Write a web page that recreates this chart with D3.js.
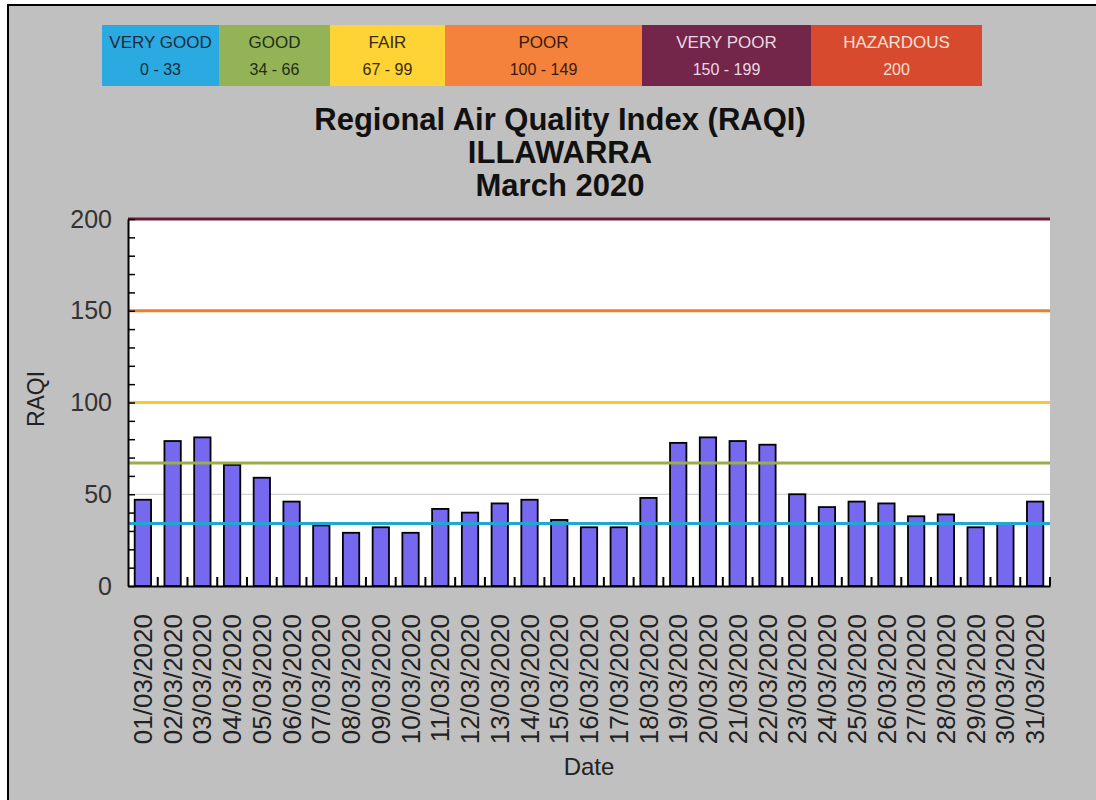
<!DOCTYPE html>
<html>
<head>
<meta charset="utf-8">
<script src="https://cdn.jsdelivr.net/npm/d3@7"></script>
<style>
  html, body { margin: 0; padding: 0; background: #fff; }
  svg { display: block; font-family: "Liberation Sans", Arial, sans-serif; }
</style>
</head>
<body>
<svg id="chart" width="1096" height="800"></svg>
<script>
// data
var dates = ["01/03/2020","02/03/2020","03/03/2020","04/03/2020","05/03/2020","06/03/2020","07/03/2020",
             "08/03/2020","09/03/2020","10/03/2020","11/03/2020","12/03/2020","13/03/2020","14/03/2020",
             "15/03/2020","16/03/2020","17/03/2020","18/03/2020","19/03/2020","20/03/2020","21/03/2020",
             "22/03/2020","23/03/2020","24/03/2020","25/03/2020","26/03/2020","27/03/2020","28/03/2020",
             "29/03/2020","30/03/2020","31/03/2020"];
var raqi = [47, 79, 81, 66, 59, 46, 33, 29, 32, 29, 42, 40, 45, 47, 36, 32, 32, 48,
            78, 81, 79, 77, 50, 43, 46, 45, 38, 39, 32, 34, 46];

var yTicks = [0, 50, 100, 150, 200];

var bandNames  = ["VERY GOOD", "GOOD", "FAIR", "POOR", "VERY POOR", "HAZARDOUS"];
var bandRanges = ["0 - 33", "34 - 66", "67 - 99", "100 - 149", "150 - 199", "200"];
var bandColors = ["#2aaae0", "#93b356", "#fdd335", "#f4823c", "#74264a", "#d84a2d"];
var bandText   = ["#1c2a3a", "#1e2e14", "#3a2a08", "#3a1a08", "#ead8e2", "#f6e0d8"];

var thresholds = [34, 67, 100, 150, 200];
var threshColors = ["#1ea8d2", "#9aad4a", "#fdc82c", "#f07c2c", "#6a1a38"];

var titleLines = ["Regional Air Quality Index (RAQI)", "ILLAWARRA", "March 2020"];

var svg = d3.select("#chart");

// background frame
svg.append("rect")
    .attr("x", 8).attr("y", 5)
    .attr("width", 1100).attr("height", 800)
    .attr("fill", "#c0c0c0")
    .attr("stroke", "#000")
    .attr("stroke-width", 2);

// legend strip
var legendW = [117, 111, 115, 197, 169, 171];
var legendX = [102];
legendW.forEach(function(w, i) { legendX.push(legendX[i] + w); });

var legend = svg.append("g").attr("transform", "translate(0,25)");
var cells = legend.selectAll("g.cell")
    .data(bandNames)
  .enter().append("g")
    .attr("class", "cell")
    .attr("transform", function(d, i) { return "translate(" + legendX[i] + ",0)"; });

cells.append("rect")
    .attr("width", function(d, i) { return legendW[i]; })
    .attr("height", 61)
    .attr("fill", function(d, i) { return bandColors[i]; });

cells.append("text")
    .attr("x", function(d, i) { return legendW[i] / 2; })
    .attr("y", 23)
    .attr("text-anchor", "middle")
    .attr("font-size", 17)
    .attr("fill", function(d, i) { return bandText[i]; })
    .text(function(d) { return d; });

cells.append("text")
    .attr("x", function(d, i) { return legendW[i] / 2; })
    .attr("y", 50)
    .attr("text-anchor", "middle")
    .attr("font-size", 16)
    .attr("fill", function(d, i) { return bandText[i]; })
    .text(function(d, i) { return bandRanges[i]; });

// title
svg.append("g").selectAll("text")
    .data(titleLines)
  .enter().append("text")
    .attr("x", 560)
    .attr("y", function(d, i) { return 130 + i * 33; })
    .attr("text-anchor", "middle")
    .attr("font-size", 31)
    .attr("font-weight", "bold")
    .attr("fill", "#111")
    .text(function(d) { return d; });

// plot area
var plotLeft = 128, plotRight = 1050, plotTop = 219, plotBottom = 586;

var x = d3.scaleBand()
    .domain(dates)
    .range([plotLeft, plotRight])
    .paddingInner(0.45)
    .paddingOuter(0.225);

var y = d3.scaleLinear()
    .domain([0, 200])
    .range([plotBottom, plotTop]);

svg.append("rect")
    .attr("x", plotLeft).attr("y", plotTop)
    .attr("width", plotRight - plotLeft).attr("height", plotBottom - plotTop)
    .attr("fill", "#fff");

// grid
svg.append("g").selectAll("line")
    .data(yTicks.slice(1, 4))
  .enter().append("line")
    .attr("x1", plotLeft).attr("x2", plotRight)
    .attr("y1", function(d) { return y(d); })
    .attr("y2", function(d) { return y(d); })
    .attr("stroke", "#c8c8c8")
    .attr("stroke-width", 1);

// bars
svg.append("g").selectAll("rect")
    .data(raqi)
  .enter().append("rect")
    .attr("x", function(d, i) { return x(dates[i]); })
    .attr("y", function(d) { return y(d); })
    .attr("width", x.bandwidth())
    .attr("height", function(d) { return y(0) - y(d); })
    .attr("fill", "#7768f0")
    .attr("stroke", "#000")
    .attr("stroke-width", 1.8);

// threshold lines drawn over the bars
svg.append("g").selectAll("line")
    .data(thresholds)
  .enter().append("line")
    .attr("x1", plotLeft).attr("x2", plotRight)
    .attr("y1", function(d) { return y(d); })
    .attr("y2", function(d) { return y(d); })
    .attr("stroke", function(d, i) { return threshColors[i]; })
    .attr("stroke-width", 3);

// y axis: minor ticks inside, labels every 50
var yMinor = d3.axisLeft(y)
    .tickValues(d3.range(0, 201, 10))
    .tickSizeInner(-7)
    .tickSizeOuter(0)
    .tickFormat("");

svg.append("g")
    .attr("transform", "translate(" + plotLeft + ",0)")
    .call(yMinor)
    .call(function(g) {
      g.selectAll("line").attr("stroke", "#000").attr("stroke-width", 1.5);
      g.select(".domain").attr("stroke", "#000").attr("stroke-width", 2);
    });

var yAxis = d3.axisLeft(y)
    .tickValues(yTicks)
    .tickSize(0)
    .tickPadding(16);

svg.append("g")
    .attr("transform", "translate(" + plotLeft + ",0)")
    .call(yAxis)
    .call(function(g) {
      g.select(".domain").remove();
      g.selectAll("text")
          .attr("font-size", 25)
          .attr("font-family", "Liberation Sans, Arial, sans-serif")
          .attr("fill", "#333");
    });

// x axis
var xAxis = d3.axisBottom(x).tickSize(0).tickPadding(0);

svg.append("g")
    .attr("transform", "translate(0," + plotBottom + ")")
    .call(xAxis)
    .call(function(g) {
      g.select(".domain").attr("stroke", "#000").attr("stroke-width", 2);
      g.selectAll("text")
          .attr("font-size", 26)
          .attr("font-family", "Liberation Sans, Arial, sans-serif")
          .attr("fill", "#222")
          .attr("text-anchor", "end")
          .attr("transform", "rotate(-90)")
          .attr("x", -28)
          .attr("y", 0)
          .attr("dy", "0.35em");
    });

// x ticks between bars, pointing up
svg.append("g").selectAll("line")
    .data(dates)
  .enter().append("line")
    .attr("x1", function(d) { return x(d) + x.bandwidth() + x.step() * x.paddingInner() / 2; })
    .attr("x2", function(d) { return x(d) + x.bandwidth() + x.step() * x.paddingInner() / 2; })
    .attr("y1", plotBottom)
    .attr("y2", plotBottom - 9)
    .attr("stroke", "#000")
    .attr("stroke-width", 2);

// axis titles
svg.append("text")
    .attr("transform", "translate(44,399) rotate(-90)")
    .attr("text-anchor", "middle")
    .attr("font-size", 23)
    .attr("fill", "#222")
    .text("RAQI");

svg.append("text")
    .attr("x", (plotLeft + plotRight) / 2)
    .attr("y", 775)
    .attr("text-anchor", "middle")
    .attr("font-size", 24)
    .attr("fill", "#222")
    .text("Date");
</script>
</body>
</html>
